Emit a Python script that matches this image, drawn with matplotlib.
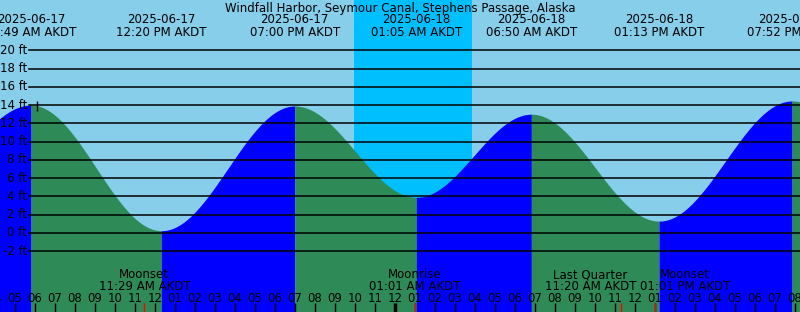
import numpy as np
import matplotlib
matplotlib.use("Agg")
import matplotlib.pyplot as plt
from matplotlib.transforms import blended_transform_factory

# ---- data (hours since 2025-06-17 00:00 AKDT) ----
tide_times = [-0.38, 5.817, 12.333, 19.0, 25.083, 30.833, 37.217, 43.867, 50.1]
tide_heights = [4.1, 14.0, 0.25, 13.9, 3.9, 13.0, 1.3, 14.45, 3.5]
label_dates = ["2025-06-17", "2025-06-17", "2025-06-17", "2025-06-18",
               "2025-06-18", "2025-06-18", "2025-06-18"]
label_times = ["05:49 AM AKDT", "12:20 PM AKDT", "07:00 PM AKDT", "01:05 AM AKDT",
               "06:50 AM AKDT", "01:13 PM AKDT", "07:52 PM AKDT"]
night_start, night_end = 21.96, 27.87
moon_times = [11.483, 25.017, 35.333, 37.017]
moon_names = ["Moonset", "Moonrise", "Last Quarter", "Moonset"]
moon_labels = ["11:29 AM AKDT", "01:01 AM AKDT", "11:20 AM AKDT", "01:01 PM AKDT"]
moon_label_shift = [0.0, 0.0, -1.55, 1.5]
ft_ticks = list(range(-2, 21, 2))
now_time, now_height = 6.1, 13.95
title = "Windfall Harbor, Seymour Canal, Stephens Passage, Alaska"

W, H = 800, 312
x0, x1 = 4.265, 44.265
y0, y1 = -8.65, 25.5

SKY = "#87CEEB"
NIGHT = "#00BFFF"
RISE = "#0000FF"
FALL = "#2E8B57"
FS = 8.5

fig = plt.figure(figsize=(W / 100, H / 100), dpi=100)
fig.patch.set_facecolor(SKY)
ax = fig.add_axes([0, 0, 1, 1])
ax.set_facecolor(SKY)
ax.set_xlim(x0, x1)
ax.set_ylim(y0, y1)
ax.axis("off")

def fy(px):
    return 1 - px / H

bt = blended_transform_factory(ax.transData, ax.transAxes)
bt_y = blended_transform_factory(ax.transAxes, ax.transData)

ax.axvspan(night_start, night_end, color=NIGHT, zorder=0, lw=0)

# tide curve: cosine between extremes
for i in range(len(tide_times) - 1):
    ta, tb = tide_times[i], tide_times[i + 1]
    ha, hb = tide_heights[i], tide_heights[i + 1]
    t = np.linspace(ta, tb, 300)
    h = ha + (hb - ha) * (1 - np.cos(np.pi * (t - ta) / (tb - ta))) / 2
    col = RISE if hb > ha else FALL
    ax.fill_between(t, y0 - 1, h, color=col, lw=0, zorder=1)

# grid lines
for v in ft_ticks:
    ax.axhline(v, xmin=29 / W, xmax=1, color="black", lw=1.1, zorder=2)
    ax.text(27 / W, v, f"{v} ft", transform=bt_y, ha="right", va="center",
            fontsize=FS, zorder=3)

# now marker
ax.plot([now_time], [now_height], marker="|", color="black", ms=7, mew=1, zorder=3)

# title
ax.text(0.5, fy(12), title, transform=ax.transAxes, ha="center", va="baseline",
        fontsize=FS, zorder=4)

# extreme labels
for t, d, s in zip(tide_times[1:-1], label_dates, label_times):
    ax.text(t, fy(23), d, transform=bt, ha="center", va="baseline", fontsize=FS, zorder=4)
    ax.text(t, fy(35.5), s, transform=bt, ha="center", va="baseline", fontsize=FS, zorder=4)

# hour ticks
for hr in range(int(np.floor(x0)), int(np.ceil(x1)) + 1):
    lw = 2.5 if hr % 24 == 0 else 1
    ax.plot([hr, hr], [fy(303), fy(312)], transform=bt, color="black", lw=lw, zorder=4,
            solid_capstyle="butt")
    lab = f"{(hr % 12) or 12:02d}"
    ax.text(hr, fy(302), lab, transform=bt, ha="center", va="baseline", fontsize=FS, zorder=4)

# moon events
for t, n, s, sh in zip(moon_times, moon_names, moon_labels, moon_label_shift):
    ax.plot([t, t], [fy(303), fy(312)], transform=bt, color="red", lw=1, zorder=5,
            solid_capstyle="butt")
    ax.text(t + sh, fy(278.5), n, transform=bt, ha="center", va="baseline", fontsize=FS, zorder=4)
    ax.text(t + sh, fy(289.5), s, transform=bt, ha="center", va="baseline", fontsize=FS, zorder=4)

fig.savefig("out.png", dpi=100, facecolor=SKY)
